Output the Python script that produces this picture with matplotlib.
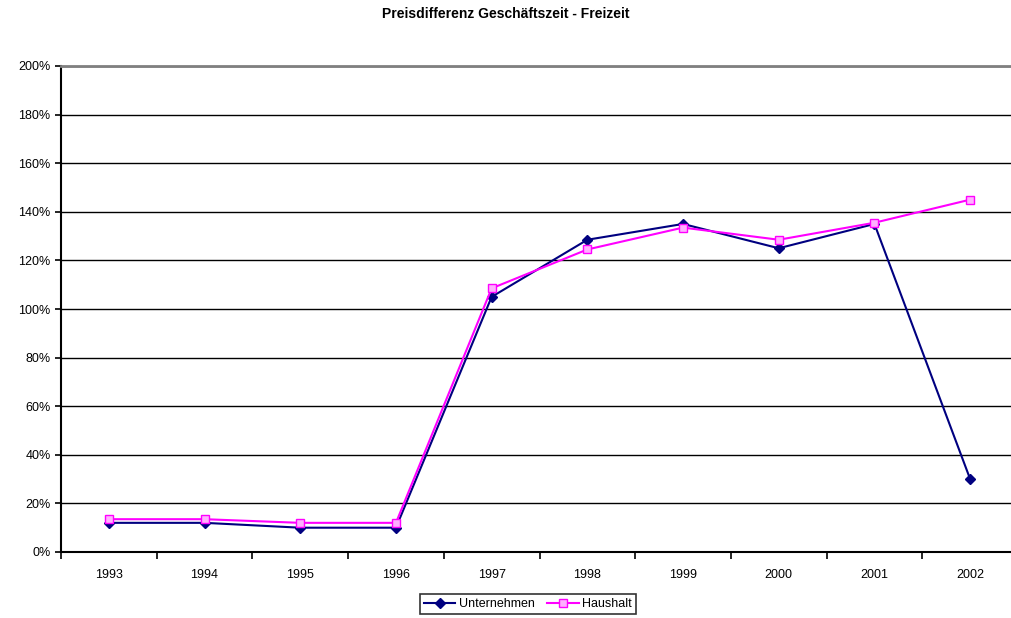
from matplotlib import pyplot as plt
from matplotlib.ticker import FixedLocator, PercentFormatter

jahre = ["1993", "1994", "1995", "1996", "1997", "1998", "1999", "2000", "2001", "2002"]
unternehmen = [12, 12, 10, 10, 105, 128.5, 135, 125, 135, 30]
haushalt = [13.5, 13.5, 12, 12, 108.5, 124.5, 133.5, 128.5, 135.5, 145]

plt.rcParams["font.family"] = ["Liberation Sans", "DejaVu Sans"]

fig = plt.figure(figsize=(10.11, 6.18), dpi=100)
ax = fig.add_axes([61 / 1011, 66 / 618, 957 / 1011, 486 / 618])

x = range(len(jahre))
ax.plot(x, unternehmen, color="#000080", lw=1.5, marker="D", ms=5,
        label="Unternehmen", clip_on=False, zorder=3)
ax.plot(x, haushalt, color="#FF00FF", lw=1.5, marker="s", ms=6,
        markerfacecolor="#FFB0FF", markeredgecolor="#FF00FF",
        label="Haushalt", clip_on=False, zorder=4)

ax.set_xlim(-0.5, len(jahre) - 0.5)
ax.set_ylim(0, 200)
ax.set_yticks(range(0, 201, 20))
ax.yaxis.set_major_formatter(PercentFormatter(decimals=0))
ax.set_xticks(list(x))
ax.set_xticklabels(jahre)
ax.xaxis.set_minor_locator(FixedLocator([i - 0.5 for i in range(len(jahre) + 1)]))
ax.tick_params(axis="x", which="major", length=0, pad=12, labelsize=9)
ax.tick_params(axis="x", which="minor", length=5, width=1.2, direction="out")
ax.tick_params(axis="y", length=4, width=1.2, labelsize=9)

ax.grid(axis="y", color="black", lw=1)
ax.set_axisbelow(True)
for s in ["left", "bottom"]:
    ax.spines[s].set_linewidth(1.5)
ax.spines["right"].set_visible(False)
ax.spines["top"].set_color("#808080")
ax.spines["top"].set_linewidth(2)

fig.text(0.5, 1 - 14 / 618, "Preisdifferenz Geschäftszeit - Freizeit",
         ha="center", va="center", fontsize=10, fontweight="bold")

leg = fig.legend(loc="center", bbox_to_anchor=(528 / 1011, 1 - 604 / 618),
                 ncol=2, fontsize=9, frameon=True, fancybox=False,
                 edgecolor="black", handlelength=2.5, handletextpad=0.3,
                 columnspacing=1.0, borderpad=0.3)
leg.get_frame().set_linewidth(1.2)

fig.savefig("out.png", dpi=100)
